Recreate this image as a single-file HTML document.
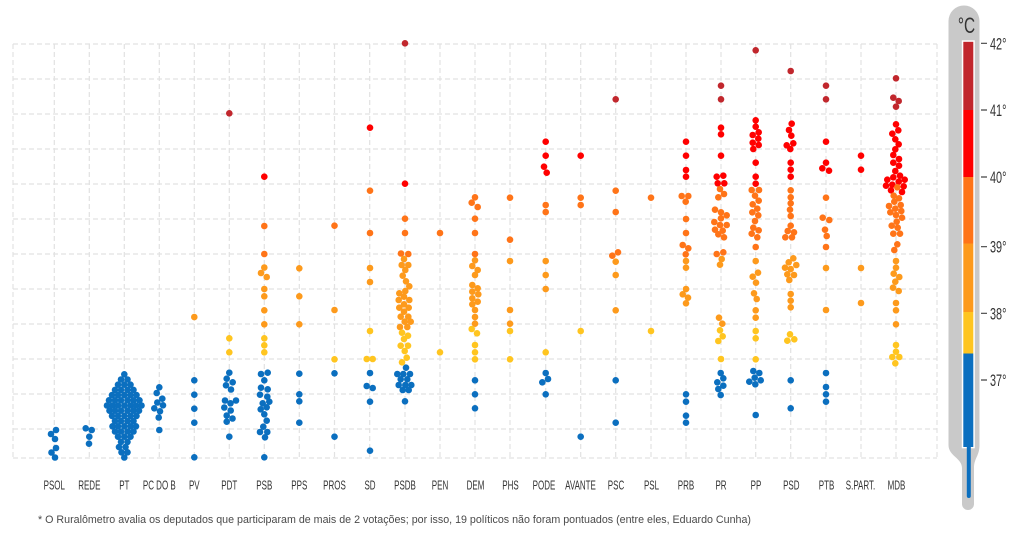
<!DOCTYPE html>
<html><head><meta charset="utf-8"><style>
html,body{margin:0;padding:0;background:#fff;}
svg{display:block;}
.a{fill:#c1272d}.b{fill:#ff0000}.c{fill:#ff7418}.d{fill:#fd9a1c}.e{fill:#ffc520}.f{fill:#0b6fbf}
.lbl{font-family:"Liberation Sans",sans-serif;font-size:12.5px;fill:#333;}
.tl{font-family:"Liberation Sans",sans-serif;font-size:16.5px;fill:#333;}
</style></head><body>
<svg width="1024" height="543" viewBox="0 0 1024 543" xmlns="http://www.w3.org/2000/svg">
<g stroke="#e2e2e2" stroke-width="1.2" stroke-dasharray="5,3" fill="none">
<path d="M13 44H937M13 79H937M13 114H937M13 149H937M13 184H937M13 219H937M13 254H937M13 289H937M13 324H937M13 359H937M13 394H937M13 429H937M13 458H937"/>
<path d="M13 44V458M54.3 44V458M89.3 44V458M124.3 44V458M159.3 44V458M194.3 44V458M229.3 44V458M264.3 44V458M299.3 44V458M334.5 44V458M369.7 44V458M405 44V458M440 44V458M475 44V458M510 44V458M545.7 44V458M580.7 44V458M615.7 44V458M651 44V458M686 44V458M721 44V458M755.7 44V458M790.7 44V458M826 44V458M861 44V458M896 44V458M937 44V458"/>
</g>
<g class="a">
<circle cx="229.3" cy="113.3" r="3.3"/><circle cx="405" cy="43.3" r="3.3"/><circle cx="615.7" cy="99.3" r="3.3"/>
<circle cx="721" cy="85.7" r="3.3"/><circle cx="721" cy="99.3" r="3.3"/><circle cx="755.7" cy="50.3" r="3.3"/>
<circle cx="790.7" cy="71" r="3.3"/><circle cx="826" cy="85.7" r="3.3"/><circle cx="826" cy="99.3" r="3.3"/>
<circle cx="896" cy="78.3" r="3.3"/><circle cx="893.3" cy="97.7" r="3.3"/><circle cx="898.7" cy="101" r="3.3"/><circle cx="896" cy="106.7" r="3.3"/>
</g>
<g class="b">
<circle cx="264.3" cy="176.7" r="3.3"/><circle cx="370" cy="127.7" r="3.3"/><circle cx="405" cy="183.7" r="3.3"/>
<circle cx="545.7" cy="141.7" r="3.3"/><circle cx="545.7" cy="155.7" r="3.3"/><circle cx="544" cy="166.7" r="3.3"/><circle cx="546.7" cy="172.7" r="3.3"/>
<circle cx="580.7" cy="155.7" r="3.3"/>
<circle cx="686" cy="141.7" r="3.3"/><circle cx="686" cy="155.7" r="3.3"/><circle cx="686" cy="170" r="3.3"/><circle cx="686" cy="176.7" r="3.3"/>
<circle cx="721" cy="127.7" r="3.3"/><circle cx="721" cy="134.3" r="3.3"/><circle cx="721" cy="155.7" r="3.3"/><circle cx="716.7" cy="176.7" r="3.3"/><circle cx="723.3" cy="175.7" r="3.3"/><circle cx="717.7" cy="183.3" r="3.3"/><circle cx="724.3" cy="183.3" r="3.3"/>
<circle cx="755.7" cy="120.3" r="3.3"/><circle cx="755.7" cy="126.7" r="3.3"/><circle cx="758.7" cy="132.3" r="3.3"/><circle cx="752.7" cy="135" r="3.3"/><circle cx="758.3" cy="138.7" r="3.3"/><circle cx="752.7" cy="142.7" r="3.3"/><circle cx="758.7" cy="145" r="3.3"/><circle cx="753.3" cy="149" r="3.3"/><circle cx="755.7" cy="162.7" r="3.3"/><circle cx="755.7" cy="176.7" r="3.3"/><circle cx="755.7" cy="183.7" r="3.3"/>
<circle cx="791.7" cy="123.7" r="3.3"/><circle cx="789" cy="130" r="3.3"/><circle cx="791.3" cy="135.7" r="3.3"/><circle cx="793.3" cy="143.3" r="3.3"/><circle cx="786.7" cy="145.3" r="3.3"/><circle cx="790.3" cy="149" r="3.3"/><circle cx="790.7" cy="162.7" r="3.3"/><circle cx="790.7" cy="169.7" r="3.3"/><circle cx="790.7" cy="176.7" r="3.3"/>
<circle cx="826" cy="141.7" r="3.3"/><circle cx="826" cy="162.7" r="3.3"/><circle cx="822.3" cy="168.3" r="3.3"/><circle cx="829" cy="170.7" r="3.3"/>
<circle cx="861" cy="155.7" r="3.3"/><circle cx="861" cy="169.7" r="3.3"/>
<circle cx="896" cy="124.3" r="3.3"/><circle cx="898.3" cy="130.3" r="3.3"/><circle cx="892.3" cy="133.7" r="3.3"/><circle cx="895.3" cy="139.3" r="3.3"/><circle cx="898.7" cy="144.3" r="3.3"/><circle cx="895.3" cy="149.3" r="3.3"/><circle cx="893.3" cy="155" r="3.3"/><circle cx="899" cy="159" r="3.3"/><circle cx="893.3" cy="162.7" r="3.3"/><circle cx="899" cy="165.7" r="3.3"/><circle cx="895.3" cy="171" r="3.3"/><circle cx="900" cy="175.7" r="3.3"/><circle cx="893.3" cy="177.3" r="3.3"/><circle cx="887.3" cy="179.7" r="3.3"/><circle cx="904.7" cy="179.7" r="3.3"/><circle cx="898.7" cy="181.7" r="3.3"/><circle cx="886" cy="185.7" r="3.3"/><circle cx="892.3" cy="184.7" r="3.3"/><circle cx="903.7" cy="186.3" r="3.3"/><circle cx="891" cy="190.3" r="3.3"/><circle cx="902" cy="192" r="3.3"/>
</g>
<g class="c">
<circle cx="264.3" cy="226" r="3.3"/><circle cx="264.3" cy="254" r="3.3"/><circle cx="334.5" cy="225.7" r="3.3"/>
<circle cx="370" cy="190.7" r="3.3"/><circle cx="370" cy="233" r="3.3"/>
<circle cx="405" cy="218.7" r="3.3"/><circle cx="405" cy="233" r="3.3"/><circle cx="401" cy="253.5" r="3.3"/><circle cx="408.3" cy="254" r="3.3"/>
<circle cx="440" cy="233" r="3.3"/>
<circle cx="475" cy="197.3" r="3.3"/><circle cx="471.7" cy="202.7" r="3.3"/><circle cx="477.7" cy="207" r="3.3"/><circle cx="475" cy="218.7" r="3.3"/><circle cx="475" cy="233" r="3.3"/><circle cx="475" cy="254" r="3.3"/>
<circle cx="510" cy="197.7" r="3.3"/><circle cx="510" cy="239.7" r="3.3"/>
<circle cx="545.7" cy="205" r="3.3"/><circle cx="545.7" cy="212" r="3.3"/>
<circle cx="580.7" cy="197.7" r="3.3"/><circle cx="580.7" cy="205" r="3.3"/>
<circle cx="615.7" cy="190.7" r="3.3"/><circle cx="615.7" cy="212" r="3.3"/><circle cx="612.3" cy="255.7" r="3.3"/><circle cx="618" cy="252.3" r="3.3"/>
<circle cx="651" cy="197.7" r="3.3"/>
<circle cx="681.7" cy="196" r="3.3"/><circle cx="688.3" cy="196" r="3.3"/><circle cx="685.7" cy="201.7" r="3.3"/><circle cx="686" cy="219" r="3.3"/><circle cx="686" cy="233" r="3.3"/><circle cx="682.7" cy="245" r="3.3"/><circle cx="688.3" cy="248.3" r="3.3"/><circle cx="685.7" cy="254.3" r="3.3"/>
<circle cx="720" cy="189" r="3.3"/><circle cx="724" cy="194" r="3.3"/><circle cx="718.3" cy="197.3" r="3.3"/><circle cx="715" cy="209.7" r="3.3"/><circle cx="721" cy="212.3" r="3.3"/><circle cx="726.7" cy="215.3" r="3.3"/><circle cx="721" cy="218.3" r="3.3"/><circle cx="714.3" cy="222" r="3.3"/><circle cx="726.7" cy="225" r="3.3"/><circle cx="720" cy="225" r="3.3"/><circle cx="715" cy="229.7" r="3.3"/><circle cx="722.7" cy="230.7" r="3.3"/><circle cx="718.3" cy="234.3" r="3.3"/><circle cx="724" cy="237.3" r="3.3"/><circle cx="716.7" cy="254" r="3.3"/><circle cx="723.3" cy="252.3" r="3.3"/>
<circle cx="751.7" cy="190" r="3.3"/><circle cx="759" cy="190" r="3.3"/><circle cx="755" cy="195.7" r="3.3"/><circle cx="758.7" cy="200.7" r="3.3"/><circle cx="752.7" cy="204.3" r="3.3"/><circle cx="757.3" cy="208.7" r="3.3"/><circle cx="752.3" cy="212.3" r="3.3"/><circle cx="758.3" cy="215.3" r="3.3"/><circle cx="755" cy="221" r="3.3"/><circle cx="753.3" cy="227.7" r="3.3"/><circle cx="758.7" cy="230.3" r="3.3"/><circle cx="751.7" cy="233.7" r="3.3"/><circle cx="757.3" cy="237.3" r="3.3"/><circle cx="755.7" cy="247" r="3.3"/>
<circle cx="790.7" cy="190.3" r="3.3"/><circle cx="790.7" cy="197.3" r="3.3"/><circle cx="790.7" cy="203.3" r="3.3"/><circle cx="790" cy="209.7" r="3.3"/><circle cx="790.7" cy="216" r="3.3"/><circle cx="790.7" cy="225.7" r="3.3"/><circle cx="787.7" cy="231" r="3.3"/><circle cx="794" cy="232.3" r="3.3"/><circle cx="785.3" cy="237.3" r="3.3"/><circle cx="792" cy="237.3" r="3.3"/>
<circle cx="826" cy="197.7" r="3.3"/><circle cx="822.7" cy="217.7" r="3.3"/><circle cx="829.3" cy="220" r="3.3"/><circle cx="825" cy="229.7" r="3.3"/><circle cx="826.7" cy="236" r="3.3"/><circle cx="826" cy="247" r="3.3"/>
<circle cx="897.3" cy="187.3" r="3.3"/><circle cx="893.7" cy="195.7" r="3.3"/><circle cx="899" cy="198.3" r="3.3"/><circle cx="894.3" cy="201.7" r="3.3"/><circle cx="889" cy="206" r="3.3"/><circle cx="900.7" cy="205" r="3.3"/><circle cx="895.3" cy="208.7" r="3.3"/><circle cx="890.3" cy="212.3" r="3.3"/><circle cx="901.3" cy="211" r="3.3"/><circle cx="896" cy="215" r="3.3"/><circle cx="902" cy="217.7" r="3.3"/><circle cx="896.7" cy="221.7" r="3.3"/><circle cx="891.7" cy="225.7" r="3.3"/><circle cx="897.7" cy="227.7" r="3.3"/><circle cx="893.3" cy="233.7" r="3.3"/><circle cx="900" cy="233.7" r="3.3"/><circle cx="897.3" cy="244.3" r="3.3"/><circle cx="894.3" cy="250" r="3.3"/>
</g>
<g class="d">
<circle cx="194.3" cy="317" r="3.3"/>
<circle cx="264.3" cy="267.5" r="3.3"/><circle cx="261" cy="273" r="3.3"/><circle cx="266.7" cy="277" r="3.3"/><circle cx="264.3" cy="289" r="3.3"/><circle cx="264.3" cy="296.3" r="3.3"/><circle cx="264.3" cy="310.3" r="3.3"/><circle cx="264.3" cy="324.3" r="3.3"/>
<circle cx="299.3" cy="268.3" r="3.3"/><circle cx="299.3" cy="296.3" r="3.3"/><circle cx="299.3" cy="324.3" r="3.3"/>
<circle cx="334.5" cy="310" r="3.3"/><circle cx="370" cy="268" r="3.3"/><circle cx="370" cy="282" r="3.3"/>
<circle cx="404" cy="259" r="3.3"/><circle cx="401.7" cy="265" r="3.3"/><circle cx="408.3" cy="265" r="3.3"/><circle cx="405.3" cy="270" r="3.3"/><circle cx="402.7" cy="275.7" r="3.3"/><circle cx="406" cy="281.3" r="3.3"/><circle cx="409.3" cy="286.3" r="3.3"/><circle cx="405.3" cy="291" r="3.3"/><circle cx="399.3" cy="293.3" r="3.3"/><circle cx="404" cy="296.7" r="3.3"/><circle cx="398.7" cy="300" r="3.3"/><circle cx="409.3" cy="300" r="3.3"/><circle cx="404" cy="304.3" r="3.3"/><circle cx="399.3" cy="307.7" r="3.3"/><circle cx="408.7" cy="307.7" r="3.3"/><circle cx="404" cy="311.7" r="3.3"/><circle cx="400.7" cy="316.7" r="3.3"/><circle cx="408.3" cy="316.7" r="3.3"/><circle cx="404.7" cy="321.7" r="3.3"/><circle cx="410.7" cy="321.7" r="3.3"/><circle cx="400" cy="327" r="3.3"/><circle cx="407.3" cy="327" r="3.3"/>
<circle cx="475" cy="260.3" r="3.3"/><circle cx="472.3" cy="266" r="3.3"/><circle cx="477.7" cy="270" r="3.3"/><circle cx="475" cy="275" r="3.3"/><circle cx="472.3" cy="285" r="3.3"/><circle cx="477.7" cy="288.3" r="3.3"/><circle cx="472.3" cy="291.7" r="3.3"/><circle cx="478.3" cy="294.3" r="3.3"/><circle cx="472.3" cy="298.3" r="3.3"/><circle cx="477.7" cy="301.7" r="3.3"/><circle cx="472.3" cy="304.3" r="3.3"/><circle cx="475" cy="310" r="3.3"/><circle cx="475" cy="317" r="3.3"/><circle cx="475" cy="323.7" r="3.3"/>
<circle cx="510" cy="261" r="3.3"/><circle cx="510" cy="310" r="3.3"/><circle cx="510" cy="323.7" r="3.3"/>
<circle cx="545.7" cy="261" r="3.3"/><circle cx="545.7" cy="275" r="3.3"/><circle cx="545.7" cy="289" r="3.3"/>
<circle cx="615.7" cy="261.7" r="3.3"/><circle cx="615.7" cy="275" r="3.3"/><circle cx="615.7" cy="310.3" r="3.3"/>
<circle cx="686" cy="261" r="3.3"/><circle cx="686" cy="267.7" r="3.3"/><circle cx="686" cy="289" r="3.3"/><circle cx="682.7" cy="294.3" r="3.3"/><circle cx="688" cy="297.7" r="3.3"/><circle cx="686" cy="303.3" r="3.3"/>
<circle cx="721.7" cy="259" r="3.3"/><circle cx="720" cy="264.7" r="3.3"/><circle cx="719" cy="317.7" r="3.3"/><circle cx="722.3" cy="323.7" r="3.3"/>
<circle cx="755.7" cy="261" r="3.3"/><circle cx="758" cy="272.7" r="3.3"/><circle cx="752.7" cy="276.7" r="3.3"/><circle cx="756" cy="282.7" r="3.3"/><circle cx="754" cy="293.3" r="3.3"/><circle cx="756.7" cy="299" r="3.3"/><circle cx="755.7" cy="310.3" r="3.3"/><circle cx="755.7" cy="317.7" r="3.3"/>
<circle cx="793.3" cy="258.3" r="3.3"/><circle cx="788.7" cy="262.3" r="3.3"/><circle cx="796.3" cy="265" r="3.3"/><circle cx="785" cy="267.7" r="3.3"/><circle cx="790.7" cy="269" r="3.3"/><circle cx="787.3" cy="274.3" r="3.3"/><circle cx="794" cy="275" r="3.3"/><circle cx="789.3" cy="280" r="3.3"/><circle cx="790.7" cy="294" r="3.3"/><circle cx="790.7" cy="300.7" r="3.3"/><circle cx="790.7" cy="307.3" r="3.3"/>
<circle cx="826" cy="268" r="3.3"/><circle cx="826" cy="310" r="3.3"/>
<circle cx="861" cy="268" r="3.3"/><circle cx="861" cy="303" r="3.3"/>
<circle cx="896" cy="261" r="3.3"/><circle cx="896" cy="267.7" r="3.3"/><circle cx="893.7" cy="273.7" r="3.3"/><circle cx="899.3" cy="277" r="3.3"/><circle cx="895.3" cy="281.7" r="3.3"/><circle cx="893" cy="287.7" r="3.3"/><circle cx="898.7" cy="291" r="3.3"/><circle cx="896" cy="303" r="3.3"/><circle cx="896" cy="310.3" r="3.3"/><circle cx="896" cy="324.3" r="3.3"/>
</g>
<g class="e">
<circle cx="229.3" cy="338.3" r="3.3"/><circle cx="229.3" cy="352.3" r="3.3"/>
<circle cx="264.3" cy="338.3" r="3.3"/><circle cx="264.3" cy="345.3" r="3.3"/><circle cx="264.3" cy="352.3" r="3.3"/>
<circle cx="334.5" cy="359.3" r="3.3"/>
<circle cx="370" cy="331" r="3.3"/><circle cx="366.7" cy="359" r="3.3"/><circle cx="372.7" cy="359" r="3.3"/>
<circle cx="402" cy="332.7" r="3.3"/><circle cx="408" cy="335.7" r="3.3"/><circle cx="404" cy="339" r="3.3"/><circle cx="400.7" cy="345.7" r="3.3"/><circle cx="408" cy="345.7" r="3.3"/><circle cx="404.7" cy="351" r="3.3"/><circle cx="406.7" cy="357.7" r="3.3"/><circle cx="402" cy="362.3" r="3.3"/>
<circle cx="440" cy="352.3" r="3.3"/>
<circle cx="471.7" cy="329" r="3.3"/><circle cx="477" cy="333.3" r="3.3"/><circle cx="475" cy="345" r="3.3"/><circle cx="475" cy="352.3" r="3.3"/><circle cx="475" cy="359.3" r="3.3"/>
<circle cx="510" cy="331" r="3.3"/><circle cx="510" cy="359.3" r="3.3"/>
<circle cx="545.7" cy="352.3" r="3.3"/><circle cx="580.7" cy="331" r="3.3"/><circle cx="651" cy="331" r="3.3"/>
<circle cx="720" cy="330.3" r="3.3"/><circle cx="722.7" cy="336.3" r="3.3"/><circle cx="718.3" cy="341" r="3.3"/><circle cx="721" cy="359" r="3.3"/>
<circle cx="755.7" cy="331" r="3.3"/><circle cx="755.7" cy="338.3" r="3.3"/><circle cx="755.7" cy="359.3" r="3.3"/>
<circle cx="790" cy="334.3" r="3.3"/><circle cx="787.3" cy="340.7" r="3.3"/><circle cx="794.3" cy="339.3" r="3.3"/>
<circle cx="896" cy="345" r="3.3"/><circle cx="896" cy="351.7" r="3.3"/><circle cx="892.3" cy="357" r="3.3"/><circle cx="899.3" cy="357" r="3.3"/><circle cx="895.3" cy="363.3" r="3.3"/>
</g>
<g class="f">
<circle cx="56" cy="430" r="3.3"/><circle cx="51" cy="434" r="3.3"/><circle cx="55" cy="439" r="3.3"/><circle cx="56" cy="448" r="3.3"/><circle cx="51.5" cy="452.5" r="3.3"/><circle cx="55" cy="457.5" r="3.3"/>
<circle cx="85.7" cy="428.3" r="3.3"/><circle cx="91.7" cy="430" r="3.3"/><circle cx="89.3" cy="436.7" r="3.3"/><circle cx="89" cy="443.7" r="3.3"/>
<circle cx="124.3" cy="374.3" r="3.3"/>
<circle cx="121" cy="379.5" r="3.3"/><circle cx="127.5" cy="379.5" r="3.3"/>
<circle cx="118" cy="384.7" r="3.3"/><circle cx="124.3" cy="384.7" r="3.3"/><circle cx="130.5" cy="384.7" r="3.3"/>
<circle cx="115" cy="389.9" r="3.3"/><circle cx="121" cy="389.9" r="3.3"/><circle cx="127.5" cy="389.9" r="3.3"/><circle cx="133.5" cy="389.9" r="3.3"/>
<circle cx="112" cy="395.1" r="3.3"/><circle cx="118" cy="395.1" r="3.3"/><circle cx="124.3" cy="395.1" r="3.3"/><circle cx="130.5" cy="395.1" r="3.3"/><circle cx="136.5" cy="395.1" r="3.3"/>
<circle cx="109" cy="400.3" r="3.3"/><circle cx="115" cy="400.3" r="3.3"/><circle cx="121" cy="400.3" r="3.3"/><circle cx="127.5" cy="400.3" r="3.3"/><circle cx="133.5" cy="400.3" r="3.3"/><circle cx="139.5" cy="400.3" r="3.3"/>
<circle cx="107" cy="405.5" r="3.3"/><circle cx="112.5" cy="405.5" r="3.3"/><circle cx="118" cy="405.5" r="3.3"/><circle cx="124.3" cy="405.5" r="3.3"/><circle cx="130.5" cy="405.5" r="3.3"/><circle cx="136" cy="405.5" r="3.3"/><circle cx="141.5" cy="405.5" r="3.3"/>
<circle cx="109.5" cy="410.7" r="3.3"/><circle cx="115" cy="410.7" r="3.3"/><circle cx="121" cy="410.7" r="3.3"/><circle cx="127.5" cy="410.7" r="3.3"/><circle cx="133.5" cy="410.7" r="3.3"/><circle cx="139" cy="410.7" r="3.3"/>
<circle cx="112" cy="415.9" r="3.3"/><circle cx="118" cy="415.9" r="3.3"/><circle cx="124.3" cy="415.9" r="3.3"/><circle cx="130.5" cy="415.9" r="3.3"/><circle cx="136.5" cy="415.9" r="3.3"/>
<circle cx="115" cy="421.1" r="3.3"/><circle cx="121" cy="421.1" r="3.3"/><circle cx="127.5" cy="421.1" r="3.3"/><circle cx="133.5" cy="421.1" r="3.3"/>
<circle cx="112.5" cy="426.3" r="3.3"/><circle cx="118" cy="426.3" r="3.3"/><circle cx="124.3" cy="426.3" r="3.3"/><circle cx="130.5" cy="426.3" r="3.3"/><circle cx="136" cy="426.3" r="3.3"/>
<circle cx="115" cy="431.5" r="3.3"/><circle cx="121" cy="431.5" r="3.3"/><circle cx="127.5" cy="431.5" r="3.3"/><circle cx="133.5" cy="431.5" r="3.3"/>
<circle cx="118" cy="436.7" r="3.3"/><circle cx="124.3" cy="436.7" r="3.3"/><circle cx="130.5" cy="436.7" r="3.3"/>
<circle cx="121" cy="441.9" r="3.3"/><circle cx="127.5" cy="441.9" r="3.3"/>
<circle cx="119" cy="447.1" r="3.3"/><circle cx="125.5" cy="447.1" r="3.3"/>
<circle cx="121.5" cy="452.3" r="3.3"/><circle cx="127.5" cy="452.3" r="3.3"/>
<circle cx="124.3" cy="457.5" r="3.3"/>
<circle cx="159.3" cy="387.3" r="3.3"/><circle cx="156.7" cy="393" r="3.3"/><circle cx="162.3" cy="398.7" r="3.3"/><circle cx="157.3" cy="402.5" r="3.3"/><circle cx="163" cy="405.3" r="3.3"/><circle cx="154.3" cy="408.3" r="3.3"/><circle cx="160" cy="411.3" r="3.3"/><circle cx="158.7" cy="417.5" r="3.3"/><circle cx="159.3" cy="430" r="3.3"/>
<circle cx="194.3" cy="380.3" r="3.3"/><circle cx="194.3" cy="394.7" r="3.3"/><circle cx="194.3" cy="408.7" r="3.3"/><circle cx="194.3" cy="422.7" r="3.3"/><circle cx="194.3" cy="457.3" r="3.3"/>
<circle cx="229.3" cy="372.7" r="3.3"/><circle cx="226.7" cy="378.7" r="3.3"/><circle cx="232.7" cy="382.3" r="3.3"/><circle cx="226" cy="385.3" r="3.3"/><circle cx="231" cy="389.5" r="3.3"/><circle cx="225" cy="400.5" r="3.3"/><circle cx="236" cy="400.5" r="3.3"/><circle cx="230.5" cy="403.3" r="3.3"/><circle cx="224.3" cy="407.5" r="3.3"/><circle cx="230.7" cy="410.5" r="3.3"/><circle cx="226.7" cy="415.5" r="3.3"/><circle cx="232.5" cy="418.5" r="3.3"/><circle cx="226.7" cy="421.7" r="3.3"/><circle cx="229.3" cy="436.7" r="3.3"/>
<circle cx="261" cy="374" r="3.3"/><circle cx="267.7" cy="372.7" r="3.3"/><circle cx="264.3" cy="380.3" r="3.3"/><circle cx="261" cy="387.7" r="3.3"/><circle cx="267.7" cy="389.3" r="3.3"/><circle cx="260" cy="394.7" r="3.3"/><circle cx="267.3" cy="396.7" r="3.3"/><circle cx="269.3" cy="401.7" r="3.3"/><circle cx="262.7" cy="403.3" r="3.3"/><circle cx="266.7" cy="407.3" r="3.3"/><circle cx="260.7" cy="409.3" r="3.3"/><circle cx="264.3" cy="414.3" r="3.3"/><circle cx="266.7" cy="420.7" r="3.3"/><circle cx="263.3" cy="426.7" r="3.3"/><circle cx="260" cy="432" r="3.3"/><circle cx="267.3" cy="432" r="3.3"/><circle cx="265" cy="437.3" r="3.3"/><circle cx="264.3" cy="457.3" r="3.3"/>
<circle cx="299.3" cy="373.7" r="3.3"/><circle cx="299.3" cy="394.3" r="3.3"/><circle cx="299.3" cy="401.3" r="3.3"/><circle cx="299.3" cy="422.7" r="3.3"/>
<circle cx="334.5" cy="373.3" r="3.3"/><circle cx="334.5" cy="436.7" r="3.3"/>
<circle cx="370" cy="373" r="3.3"/><circle cx="366.7" cy="386" r="3.3"/><circle cx="372.7" cy="388" r="3.3"/><circle cx="370" cy="401.7" r="3.3"/><circle cx="370" cy="450.7" r="3.3"/>
<circle cx="406" cy="367.7" r="3.3"/><circle cx="397.3" cy="374" r="3.3"/><circle cx="403.3" cy="374" r="3.3"/><circle cx="410" cy="374" r="3.3"/><circle cx="400.7" cy="379.3" r="3.3"/><circle cx="407.3" cy="379.3" r="3.3"/><circle cx="398.7" cy="385" r="3.3"/><circle cx="405.3" cy="385" r="3.3"/><circle cx="411.3" cy="385" r="3.3"/><circle cx="402.7" cy="390" r="3.3"/><circle cx="408.7" cy="390" r="3.3"/><circle cx="405" cy="401.3" r="3.3"/>
<circle cx="475" cy="380.3" r="3.3"/><circle cx="475" cy="394.3" r="3.3"/><circle cx="475" cy="408.3" r="3.3"/>
<circle cx="545.7" cy="373" r="3.3"/><circle cx="548" cy="379" r="3.3"/><circle cx="542.3" cy="382.3" r="3.3"/><circle cx="545.7" cy="394.3" r="3.3"/>
<circle cx="580.7" cy="436.7" r="3.3"/>
<circle cx="615.7" cy="380.3" r="3.3"/><circle cx="615.7" cy="422.7" r="3.3"/>
<circle cx="686" cy="394.3" r="3.3"/><circle cx="686" cy="401.7" r="3.3"/><circle cx="686" cy="415.7" r="3.3"/><circle cx="686" cy="422.7" r="3.3"/>
<circle cx="720.7" cy="373" r="3.3"/><circle cx="723.3" cy="378.3" r="3.3"/><circle cx="717.3" cy="382.3" r="3.3"/><circle cx="723.3" cy="385.7" r="3.3"/><circle cx="718.3" cy="389" r="3.3"/><circle cx="720.7" cy="395" r="3.3"/>
<circle cx="753.3" cy="371" r="3.3"/><circle cx="759.3" cy="373" r="3.3"/><circle cx="749.3" cy="381.7" r="3.3"/><circle cx="754.7" cy="377.7" r="3.3"/><circle cx="760.7" cy="380.3" r="3.3"/><circle cx="755.3" cy="384.3" r="3.3"/><circle cx="755.7" cy="415" r="3.3"/>
<circle cx="790.7" cy="380.3" r="3.3"/><circle cx="790.7" cy="408.3" r="3.3"/>
<circle cx="826" cy="373" r="3.3"/><circle cx="826" cy="387" r="3.3"/><circle cx="826" cy="394.3" r="3.3"/><circle cx="826" cy="401.7" r="3.3"/>
</g>
<g class="lbl" text-anchor="middle">
<text transform="translate(54.3,489.5) scale(0.64,1)">PSOL</text>
<text transform="translate(89.3,489.5) scale(0.64,1)">REDE</text>
<text transform="translate(124.3,489.5) scale(0.64,1)">PT</text>
<text transform="translate(159.3,489.5) scale(0.64,1)">PC DO B</text>
<text transform="translate(194.3,489.5) scale(0.64,1)">PV</text>
<text transform="translate(229.3,489.5) scale(0.64,1)">PDT</text>
<text transform="translate(264.3,489.5) scale(0.64,1)">PSB</text>
<text transform="translate(299.3,489.5) scale(0.64,1)">PPS</text>
<text transform="translate(334.5,489.5) scale(0.64,1)">PROS</text>
<text transform="translate(370,489.5) scale(0.64,1)">SD</text>
<text transform="translate(405,489.5) scale(0.64,1)">PSDB</text>
<text transform="translate(440,489.5) scale(0.64,1)">PEN</text>
<text transform="translate(475.5,489.5) scale(0.64,1)">DEM</text>
<text transform="translate(510.5,489.5) scale(0.64,1)">PHS</text>
<text transform="translate(544,489.5) scale(0.64,1)">PODE</text>
<text transform="translate(580.5,489.5) scale(0.64,1)">AVANTE</text>
<text transform="translate(616,489.5) scale(0.64,1)">PSC</text>
<text transform="translate(651.5,489.5) scale(0.64,1)">PSL</text>
<text transform="translate(686,489.5) scale(0.64,1)">PRB</text>
<text transform="translate(721,489.5) scale(0.64,1)">PR</text>
<text transform="translate(756,489.5) scale(0.64,1)">PP</text>
<text transform="translate(791.3,489.5) scale(0.64,1)">PSD</text>
<text transform="translate(826.5,489.5) scale(0.64,1)">PTB</text>
<text transform="translate(860.5,489.5) scale(0.64,1)">S.PART.</text>
<text transform="translate(896.5,489.5) scale(0.64,1)">MDB</text>
</g>
<text x="38" y="523" font-family="Liberation Sans, sans-serif" font-size="11" fill="#4a4a4a" textLength="713" lengthAdjust="spacingAndGlyphs">* O Ruralômetro avalia os deputados que participaram de mais de 2 votações; por isso, 19 políticos não foram pontuados (entre eles, Eduardo Cunha)</text>
<!-- thermometer -->
<path d="M948.5 21 A15.5 15.5 0 0 1 979.5 21 L979.5 445 C979.5 456 974 458 974 468 L974 504 A6 6 0 0 1 962 504 L962 468 C962 458 948.5 456 948.5 445 Z" fill="#c9c9c9"/>
<rect x="961.8" y="40.3" width="13" height="408" fill="#fff"/>
<rect x="963.3" y="41.8" width="10" height="68.2" fill="#c1272d"/>
<rect x="963.3" y="110" width="10" height="67" fill="#ff0000"/>
<rect x="963.3" y="177" width="10" height="66.5" fill="#ff7418"/>
<rect x="963.3" y="243.5" width="10" height="68.5" fill="#fd9a1c"/>
<rect x="963.3" y="312" width="10" height="41.5" fill="#ffc520"/>
<rect x="963.3" y="353.5" width="10" height="93.5" fill="#0b6fbf"/>
<path d="M966.8 446 L970.8 446 L970.8 496 A2 2 0 0 1 966.8 496 Z" fill="#0b6fbf"/>
<g stroke="#444" stroke-width="1.2">
<path d="M981 43.3H987M981 110H987M981 177H987M981 246.7H987M981 313.3H987M981 380H987"/>
</g>
<g class="tl">
<text transform="translate(990,49.3) scale(0.66,1)">42°</text>
<text transform="translate(990,116) scale(0.66,1)">41°</text>
<text transform="translate(990,183) scale(0.66,1)">40°</text>
<text transform="translate(990,252.7) scale(0.66,1)">39°</text>
<text transform="translate(990,319.3) scale(0.66,1)">38°</text>
<text transform="translate(990,386) scale(0.66,1)">37°</text>
</g>
<text transform="translate(966.5,33) scale(0.7,1)" text-anchor="middle" font-family="Liberation Sans, sans-serif" font-size="22" fill="#333">°C</text>
</svg>
</body></html>
